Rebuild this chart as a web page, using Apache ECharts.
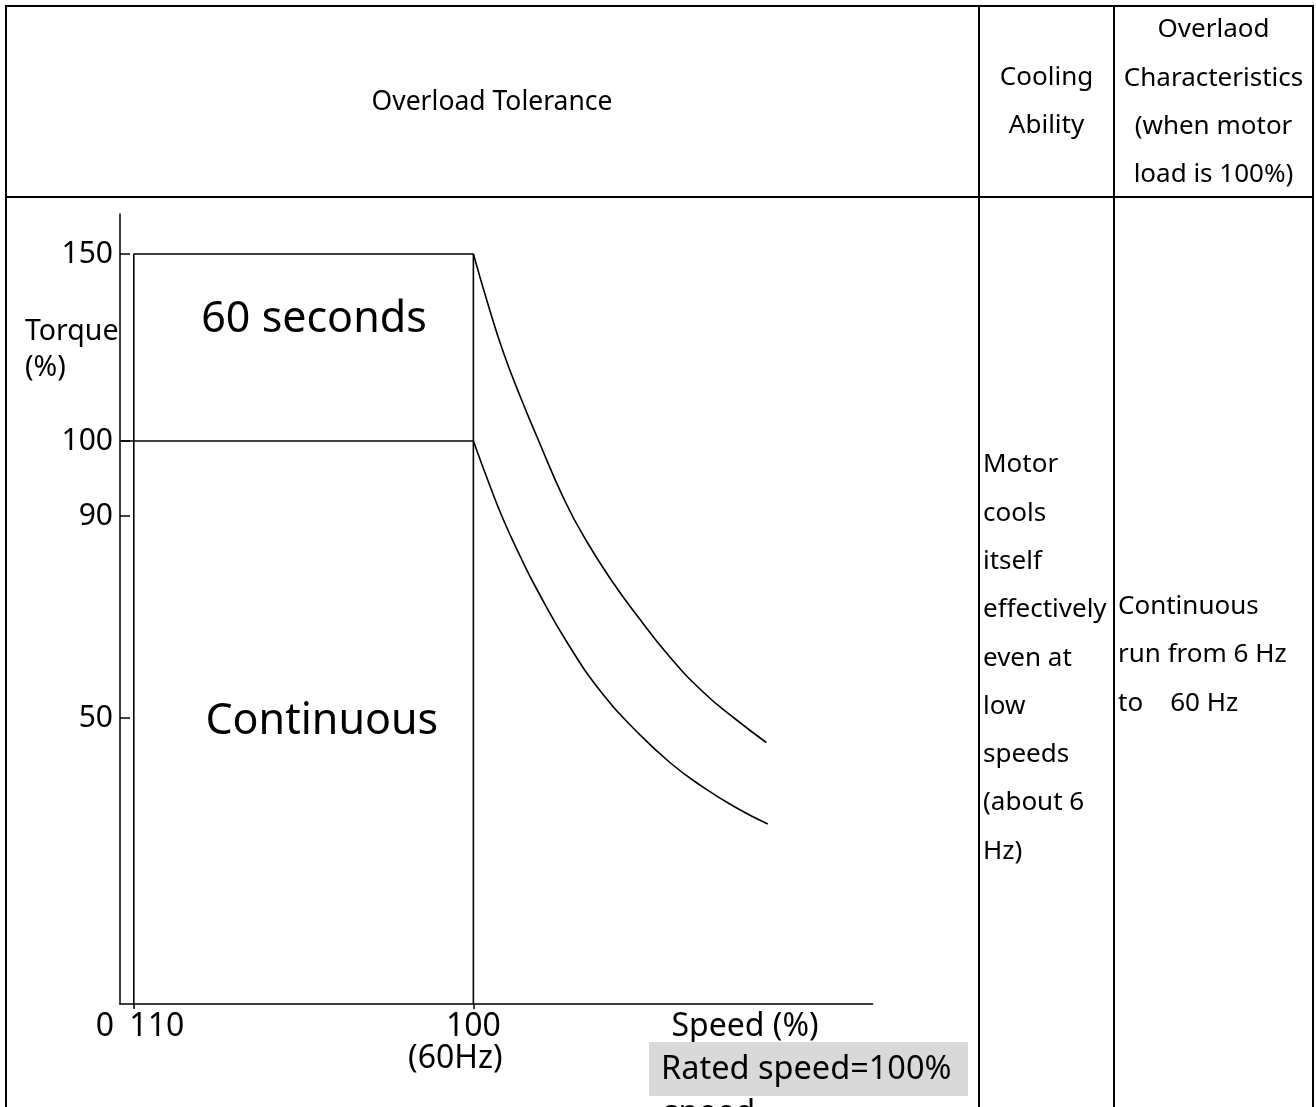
<!DOCTYPE html>
<html>
<head>
<meta charset="utf-8">
<script src="https://cdn.jsdelivr.net/npm/echarts@6/dist/echarts.min.js"></script>
<style>
html, body { margin: 0; padding: 0; background: #fff; }
#chart { width: 1316px; height: 1107px; }
</style>
</head>
<body>
<div id="chart"></div>
<script>
const FONT = '"Noto Sans", "Open Sans", sans-serif';

// Axis tick labels (schematic axes: each label sits at its drawn level)
const yTickLabels = ['150', '100', '90', '50'];
const yTickLevels = [150, 112.6, 97.6, 57.2];
const xOriginLabel = '0';
const xTickLabels = ['110', '100', '(60Hz)'];
const xTickLevels = [3.9, 100];

// 60-second overload boundary
const overloadBoxSpeed = [3.9, 3.9, 100, 100];
const overloadBoxTorque = [0, 150, 150, 0];

// continuous (100%) boundary
const continuousLineSpeed = [0, 100];
const continuousLineTorque = [112.6, 112.6];

// curves above rated speed
const overloadCurveSpeed = [100, 104.2, 108.4, 113.2, 117.9, 125.9, 132.0, 139.5, 146.2, 155.6, 165.0, 174.5, 182.9];
const overloadCurveTorque = [150, 139.8, 130.5, 121.6, 113.6, 100.6, 92.6, 84.3, 77.8, 69.4, 62.4, 56.8, 52.3];
const continuousCurveSpeed = [100, 104.7, 108.4, 113.2, 117.9, 126.8, 136.7, 146.2, 155.6, 164.1, 174.0, 183.3];
const continuousCurveTorque = [112.6, 103.6, 97.0, 89.6, 83.0, 72.0, 61.9, 54.5, 48.3, 43.8, 39.4, 36.0];

// region labels
const regionLabels = ['60 seconds', 'Continuous'];
const regionLabelSpeed = [54.9, 57.1];
const regionLabelTorque = [136.9, 56.5];

// table texts
const headerTolerance = 'Overload Tolerance';
const headerCooling = ['Cooling', 'Ability'];
const headerCharacteristics = ['Overlaod', 'Characteristics', '(when motor', 'load is 100%)'];
const coolingText = ['Motor', 'cools', 'itself', 'effectively', 'even at', 'low', 'speeds', '(about 6', 'Hz)'];
const characteristicsText = ['Continuous', 'run from 6 Hz', 'to    60 Hz'];
const yAxisTitle = ['Torque', '(%)'];
const xAxisTitle = 'Speed (%)';
const noteText = 'Rated speed=100%';
const noteTextCut = 'speed';

const zip = (xs, ys) => xs.map((x, i) => [x, ys[i]]);

const chart = echarts.init(document.getElementById('chart'), null, { renderer: 'canvas' });

const lineBase = {
  type: 'line',
  symbol: 'none',
  showSymbol: false,
  silent: true,
  animation: false,
  lineStyle: { color: '#000', width: 1.6 }
};

const tableLine = (x1, y1, x2, y2) => ({
  type: 'line',
  shape: { x1, y1, x2, y2 },
  style: { stroke: '#000', lineWidth: 2 },
  silent: true
});

const txt = (text, x, y, size, opts) => ({
  type: 'text',
  x, y,
  style: Object.assign({
    text,
    fill: '#000',
    font: size + 'px ' + FONT,
    fontFamily: FONT,
    fontSize: size,
    align: 'left',
    verticalAlign: 'middle'
  }, opts || {}),
  silent: true
});

const labelRich = (size, padding) => ({
  fontFamily: FONT, fontSize: size, color: '#000', lineHeight: 32, padding: padding || [0, 0, 0, 0]
});

const option = {
  animation: false,
  backgroundColor: '#fff',
  grid: {
    left: 120,
    right: 443.3,
    top: 214,
    bottom: 103,
    containLabel: false,
    outerBoundsMode: 'none'
  },
  xAxis: {
    type: 'value',
    min: 0,
    max: 213,
    splitLine: { show: false },
    axisLine: { show: true, onZero: false, lineStyle: { color: '#000', width: 1.5 } },
    axisTick: {
      show: true,
      customValues: xTickLevels,
      length: 5,
      lineStyle: { color: '#000', width: 1.5 }
    },
    axisLabel: {
      show: true,
      showMinLabel: true,
      showMaxLabel: true,
      hideOverlap: false,
      customValues: xTickLevels,
      margin: 7,
      color: '#000',
      fontFamily: FONT,
      fontSize: 32,
      formatter: function (v) {
        const i = xTickLevels.indexOf(v);
        if (i === 0) return '{r|' + xTickLabels[0] + '}';
        if (i === 1) return '{c|' + xTickLabels[1] + '}\n{s|' + xTickLabels[2] + '}';
        return '';
      },
      rich: {
        r: labelRich(32, [0, 0, 0, 46]),
        c: labelRich(32),
        s: labelRich(32, [0, 36, 0, 0])
      }
    }
  },
  yAxis: {
    type: 'value',
    min: 0,
    max: 158,
    splitLine: { show: false },
    axisLine: { show: true, onZero: false, lineStyle: { color: '#000', width: 1.5 } },
    axisTick: {
      show: true,
      inside: true,
      length: 10,
      customValues: yTickLevels,
      lineStyle: { color: '#000', width: 1.5 }
    },
    axisLabel: {
      show: true,
      showMinLabel: true,
      showMaxLabel: true,
      customValues: yTickLevels,
      margin: 7,
      color: '#000',
      fontFamily: FONT,
      fontSize: 30,
      formatter: function (v) {
        const i = yTickLevels.indexOf(v);
        return i >= 0 ? yTickLabels[i] : '';
      }
    }
  },
  series: [
    Object.assign({}, lineBase, { name: '60 seconds boundary', data: zip(overloadBoxSpeed, overloadBoxTorque) }),
    Object.assign({}, lineBase, { name: 'Continuous boundary', data: zip(continuousLineSpeed, continuousLineTorque) }),
    Object.assign({}, lineBase, { name: '60 seconds curve', smooth: 0.5, data: zip(overloadCurveSpeed, overloadCurveTorque) }),
    Object.assign({}, lineBase, { name: 'Continuous curve', smooth: 0.5, data: zip(continuousCurveSpeed, continuousCurveTorque) })
  ]
};

chart.setOption(option);

// region labels and origin label placed through the chart's own axes
const regionElements = regionLabels.map((name, i) => {
  const p = chart.convertToPixel({ gridIndex: 0 }, [regionLabelSpeed[i], regionLabelTorque[i]]);
  return txt(name, p[0], p[1], 43, { align: 'center' });
});
const origin = chart.convertToPixel({ gridIndex: 0 }, [0, 0]);
const originElement = txt(xOriginLabel, origin[0] - 15, origin[1] + 23, 32, { align: 'center' });

chart.setOption({
  graphic: {
    elements: [
      // table frame
      tableLine(5, 6, 1314, 6),
      tableLine(6, 5, 6, 1107),
      tableLine(1313, 5, 1313, 1107),
      tableLine(5, 197, 1314, 197),
      tableLine(979, 5, 979, 1107),
      tableLine(1114, 5, 1114, 1107),
      // header texts
      txt(headerTolerance, 492, 102, 26.5, { align: 'center' }),
      txt(headerCooling.join('\n'), 1046.5, 101.5, 26, { align: 'center', lineHeight: 48.3 }),
      txt(headerCharacteristics.join('\n'), 1213.5, 102.5, 26, { align: 'center', lineHeight: 48.3 }),
      // body texts
      txt(coolingText.join('\n'), 983, 440.8, 26, { verticalAlign: 'top', lineHeight: 48.3 }),
      txt(characteristicsText.join('\n'), 1118, 582.5, 26, { verticalAlign: 'top', lineHeight: 48.3 }),
      // axis titles
      txt(yAxisTitle.join('\n'), 25, 350, 28.5, { lineHeight: 36 }),
      txt(xAxisTitle, 745, 1027, 32, { align: 'center' }),
      // note box
      {
        type: 'rect',
        shape: { x: 649, y: 1042, width: 319, height: 54 },
        style: { fill: '#d9d9d9' },
        silent: true
      },
      txt(noteText, 661, 1070, 32.5),
      txt(noteTextCut, 663, 1114, 32.5),
      originElement
    ].concat(regionElements)
  }
});
</script>
</body>
</html>
